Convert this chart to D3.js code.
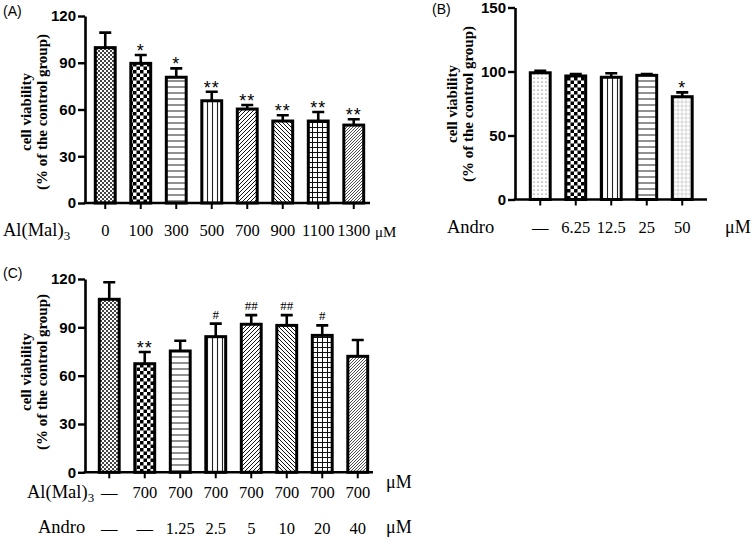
<!DOCTYPE html>
<html><head><meta charset="utf-8">
<script src="https://cdn.jsdelivr.net/npm/d3@7/dist/d3.min.js"></script>
<style>
body{margin:0;background:#fff;}
svg{display:block;}
.tick text{font-family:"Liberation Sans",Arial,sans-serif;font-weight:bold;font-size:15px;fill:#000;}
.plabel{font-family:"Liberation Sans",Arial,sans-serif;font-size:14px;fill:#000;}
</style>
</head><body>
<svg id="chart" width="755" height="540"></svg>
<script>
// ---- Data ----
const aCats = ["0","100","300","500","700","900","1100","1300"];
const aMeans = [99.7, 89.6, 80.7, 65.6, 60.3, 52.6, 52.6, 50.0];
const aErr = [9.6, 5.4, 5.7, 5.8, 2.6, 3.7, 5.8, 3.7];
const aSig = ["","*","*","**","**","**","**","**"];
const aPatterns = ["fineCheck","checker","hlines","vlines","diagR","diagL","grid","diagDense"];
const aTicks = [0,30,60,90,120];

const bCats = ["\u2014","6.25","12.5","25","50"];
const bMeans = [99.0, 96.5, 95.5, 97.0, 80.3];
const bErr = [1.6, 1.5, 3.1, 1.0, 3.4];
const bSig = ["","","","","*"];
const bPatterns = ["dots","checker","vlines","hlines","lightGrid"];
const bTicks = [0,50,100,150];

const cAl = ["\u2014","700","700","700","700","700","700","700"];
const cAndro = ["\u2014","\u2014","1.25","2.5","5","10","20","40"];
const cMeans = [107.4, 67.4, 75.3, 84.2, 91.9, 91.2, 85.0, 72.0];
const cErr = [10.6, 7.3, 6.4, 8.1, 5.7, 6.4, 6.2, 10.1];
const cSig = ["","**","","#","##","##","#",""];
const cPatterns = ["fineCheck","checker","hlines","vlines","diagR","diagL","grid","diagDense"];
const cTicks = [0,30,60,90,120];

const SERIF = "'Liberation Serif', 'Times New Roman', Times, 'DejaVu Serif', serif";
const SANS = "'Liberation Sans', Arial, Helvetica, sans-serif";

const svg = d3.select("#chart");
const defs = svg.append("defs");

function pat(id, size, fn){
  const p = defs.append("pattern").attr("id", id).attr("patternUnits","userSpaceOnUse")
    .attr("width", size).attr("height", size);
  p.append("rect").attr("width", size).attr("height", size).attr("fill","#fff");
  fn(p, size);
}
pat("fineCheck", 4, (p)=>{
  p.append("rect").attr("x",0).attr("y",0).attr("width",2).attr("height",2).attr("fill","#444");
  p.append("rect").attr("x",2).attr("y",2).attr("width",2).attr("height",2).attr("fill","#444");
});
pat("checker", 7, (p)=>{
  p.append("rect").attr("x",0).attr("y",0).attr("width",3.5).attr("height",3.5).attr("fill","#000");
  p.append("rect").attr("x",3.5).attr("y",3.5).attr("width",3.5).attr("height",3.5).attr("fill","#000");
});
pat("hlines", 6, (p)=>{
  p.append("line").attr("x1",0).attr("x2",6).attr("y1",3).attr("y2",3).attr("stroke","#555").attr("stroke-width",1.3);
});
pat("vlines", 5, (p)=>{
  p.append("line").attr("y1",0).attr("y2",5).attr("x1",2.5).attr("x2",2.5).attr("stroke","#222").attr("stroke-width",1.1);
});
pat("diagR", 4, (p)=>{
  p.append("path").attr("d","M-1,1 L1,-1 M0,4 L4,0 M3,5 L5,3").attr("stroke","#111").attr("stroke-width",1);
});
pat("diagL", 4, (p)=>{
  p.append("path").attr("d","M-1,3 L1,5 M0,0 L4,4 M3,-1 L5,1").attr("stroke","#111").attr("stroke-width",1);
});
pat("grid", 5, (p)=>{
  p.append("path").attr("d","M0,2.5 L5,2.5 M2.5,0 L2.5,5").attr("stroke","#111").attr("stroke-width",1);
});
pat("diagDense", 3, (p)=>{
  p.append("path").attr("d","M-1,1 L1,-1 M0,3 L3,0 M2,4 L4,2").attr("stroke","#222").attr("stroke-width",0.8);
});
pat("dots", 4, (p)=>{
  p.append("circle").attr("cx",2).attr("cy",2).attr("r",0.6).attr("fill","#333");
});
pat("lightGrid", 4, (p)=>{
  p.append("path").attr("d","M0,2 L4,2 M2,0 L2,4").attr("stroke","#ccc").attr("stroke-width",0.8);
});

function panel(opt){
  const g = svg.append("g");
  const y = d3.scaleLinear().domain([0, opt.ymax]).range([opt.y0, opt.y1]);
  const x = d3.scaleBand().domain(d3.range(opt.means.length))
    .range([opt.xb0, opt.xb1]).paddingInner(0.44).paddingOuter(0.22);
  const bw = x.bandwidth();
  const data = opt.means.map((m,i)=>({i, m, e:opt.err[i], s:opt.sig[i], p:opt.patterns[i]}));
  // error bars
  g.selectAll(".eb").data(data).enter().append("path")
    .attr("d", d=>{const cx=x(d.i)+bw/2; const yt=y(d.m+d.e); return `M${cx},${y(d.m)} V${yt} M${cx-6},${yt} H${cx+6}`;})
    .attr("stroke","#000").attr("stroke-width",2.6).attr("fill","none");
  g.selectAll(".bar").data(data).enter().append("rect")
    .attr("x", d=>x(d.i)).attr("width", bw)
    .attr("y", d=>y(d.m)).attr("height", d=>y(0)-y(d.m))
    .attr("fill", d=>`url(#${d.p})`).attr("stroke","#000").attr("stroke-width",3);
  // significance
  g.selectAll(".sig").data(data.filter(d=>d.s)).enter().append("text")
    .attr("x", d=>x(d.i)+bw/2)
    .attr("y", d=>d.s.includes("#") ? y(d.m+d.e)-5 : y(d.m+d.e)+2)
    .attr("text-anchor","middle")
    .attr("font-family", d=>d.s.includes("#") ? SERIF : SANS)
    .attr("font-size", d=>d.s.includes("#") ? 13 : 18)
    .attr("letter-spacing", d=>d.s.includes("#") ? 0 : 1)
    .attr("fill","#000")
    .text(d=>d.s);
  // y axis
  const ya = g.append("g").attr("transform",`translate(${opt.ax},0)`)
    .call(d3.axisLeft(y).tickValues(opt.ticks).tickSize(7).tickPadding(2).tickSizeOuter(0));
  ya.select(".domain").attr("stroke-width",2.6);
  ya.selectAll(".tick line").attr("stroke-width",2.4);
  // x axis
  const xa = g.append("g").attr("transform",`translate(0,${opt.y0})`)
    .call(d3.axisBottom(x).tickSize(6).tickSizeOuter(0).tickFormat(""));
  xa.select(".domain").attr("d", `M${opt.ax-1.3},0 H${opt.xend}`).attr("stroke-width",2.6);
  xa.selectAll(".tick line").attr("stroke-width",2);
  // y title
  const t = g.append("text").attr("text-anchor","middle")
    .attr("font-family", SERIF).attr("font-weight","bold").attr("font-size",15).attr("fill","#000")
    .attr("transform",`translate(${opt.tx},${opt.ty}) rotate(-90)`);
  t.append("tspan").attr("x",0).attr("y",0).text("cell viability");
  t.append("tspan").attr("x",0).attr("y",16).text("(% of the control group)");
  // panel label
  g.append("text").attr("class","plabel").attr("x",opt.lx).attr("y",opt.ly).text(opt.label);
  return {x, y, bw, g};
}

function row(g, x, bw, labels, baseline, fs){
  g.selectAll(null).data(labels).enter().append("text")
    .attr("font-family", SERIF).attr("font-size", fs).attr("fill","#000")
    .attr("x",(d,i)=>x(i)+bw/2).attr("y",baseline).attr("text-anchor","middle")
    .text(d=>d);
}
function alLabel(g, xx, yy, fs){
  const t = g.append("text").attr("font-family", SERIF).attr("font-size", fs).attr("fill","#000")
    .attr("x",xx).attr("y",yy);
  t.append("tspan").text("Al(Mal)");
  t.append("tspan").attr("dy",4).attr("font-size", fs*0.7).text("3");
}
function txt(g, s, xx, yy, fs){
  g.append("text").attr("font-family", SERIF).attr("font-size", fs).attr("fill","#000")
    .attr("x",xx).attr("y",yy).text(s);
}

// Panel A
const A = panel({means:aMeans, err:aErr, sig:aSig, patterns:aPatterns, ticks:aTicks, ymax:120,
  y0:203, y1:16, xb0:87.5, xb1:371.5, ax:85, xend:370, tx:31, ty:112, lx:3, ly:16, label:"(A)"});
row(A.g, A.x, A.bw, aCats, 236, 16.5);
alLabel(A.g, 3, 236, 18.5);
txt(A.g, "\u03bcM", 375, 237, 15);

// Panel B
const B = panel({means:bMeans, err:bErr, sig:bSig, patterns:bPatterns, ticks:bTicks, ymax:150,
  y0:199.5, y1:7.5, xb0:522.5, xb1:700, ax:515, xend:707, tx:457, ty:104, lx:432, ly:14, label:"(B)"});
row(B.g, B.x, B.bw, bCats, 233, 16.5);
txt(B.g, "Andro", 447, 233, 18.5);
txt(B.g, "\u03bcM", 725, 233, 18);

// Panel C
const C = panel({means:cMeans, err:cErr, sig:cSig, patterns:cPatterns, ticks:cTicks, ymax:120,
  y0:472.3, y1:279, xb0:91.5, xb1:375.5, ax:85, xend:373, tx:31, ty:372, lx:3, ly:278, label:"(C)"});
row(C.g, C.x, C.bw, cAl, 498, 16.5);
row(C.g, C.x, C.bw, cAndro, 534, 16.5);
alLabel(C.g, 27, 498, 18.5);
txt(C.g, "Andro", 38, 533, 18.5);
txt(C.g, "\u03bcM", 386, 488, 18);
txt(C.g, "\u03bcM", 386, 533, 18);
</script>
</body></html>
